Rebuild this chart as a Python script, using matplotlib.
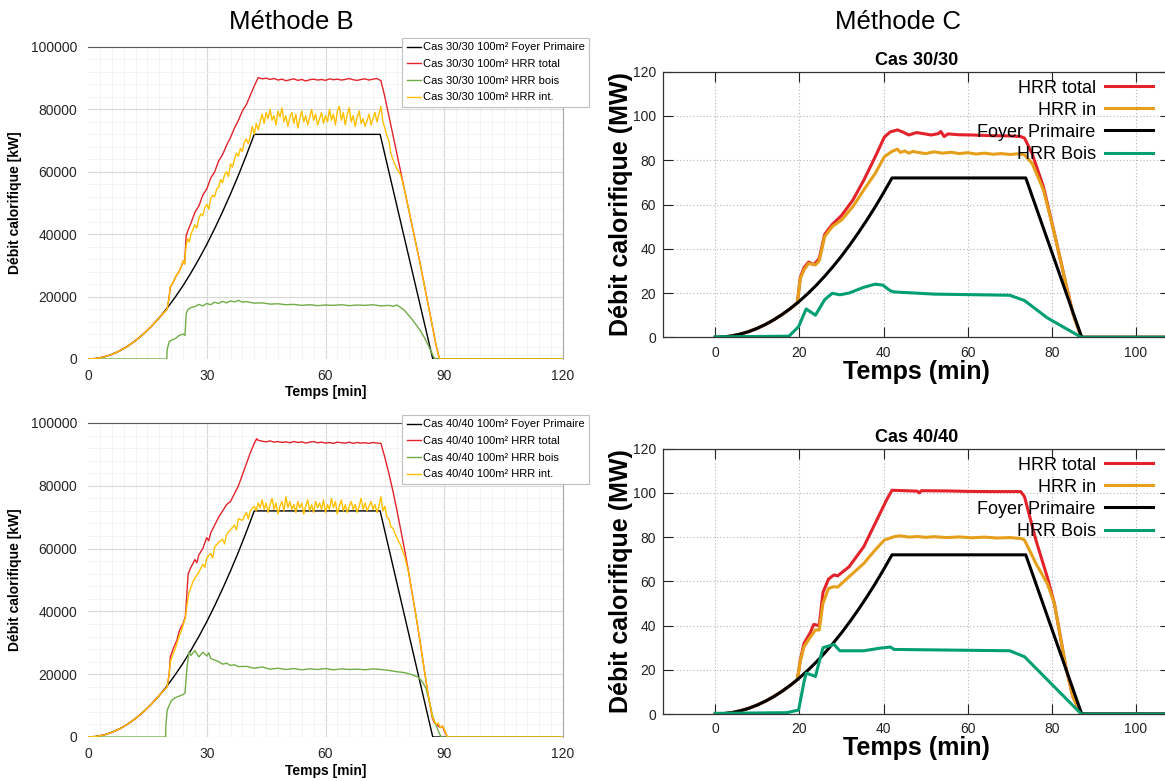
import numpy as np
import matplotlib.pyplot as plt
from matplotlib.ticker import MultipleLocator

plt.rcParams['font.family'] = ['Liberation Sans', 'DejaVu Sans']

# primary fire (Foyer Primaire), MW, same in every panel
foyer_t = [0, 2, 4, 6, 8, 10, 12, 14, 16, 18, 20, 22, 24, 26, 28, 30, 32, 34, 36, 38, 40, 42, 73.8, 87.1, 120]
foyer_v = [0, 0.16, 0.65, 1.47, 2.61, 4.08, 5.88, 8.0, 10.45, 13.22, 16.33, 19.76, 23.5, 27.6, 32.0, 36.7,
           41.8, 47.2, 52.9, 58.9, 65.3, 72.0, 72.0, 0, 0]

# ---- Méthode B, cas 30/30 (values in MW, plotted in kW)
b30_total_t = foyer_t[:10] + [20, 20.4, 20.8, 21.5, 22.2, 23, 23.6, 24.1, 24.4, 24.8,
                              25.2, 26, 27, 28, 29, 30, 31, 32, 33, 34, 35, 36, 37, 38, 39, 40, 41, 42, 43, 44, 45,
                              46, 47, 48, 49, 50, 51, 52, 53, 54, 55, 56, 57, 58, 59, 60, 61, 62, 63, 64, 65, 66,
                              67, 68, 69, 70, 71, 72, 73,
                              74, 75, 76, 77, 78, 79, 80, 81, 82, 83, 84, 85, 86, 87, 88, 88.8, 120]
b30_total_v = foyer_v[:10] + [16.0, 19.0, 23.0, 24.5, 26.5, 28.0, 29.8, 31.5, 30.5, 39.5,
                              41.0, 43.5, 47.0, 49.0, 52.5, 54.5, 58.0, 60.0, 63.5, 65.5, 68.5, 71.0, 74.0, 76.5,
                              79.5, 81.5, 84.5, 87.5, 90.2, 89.8, 90.0,
                              89.6, 89.9, 89.4, 89.7, 89.2, 89.5, 89.8, 89.3, 89.6, 89.1, 89.5, 89.7, 89.4, 89.6,
                              89.3, 89.8, 89.5, 89.7, 89.4, 89.6, 89.9, 89.5, 89.3, 89.6, 89.8, 89.4, 89.7, 89.9,
                              89.2, 84.0, 78.0, 72.0, 66.0, 60.0, 54.0, 48.0, 42.0, 36.0, 30.0, 23.5, 17.0, 10.5,
                              4.0, 0, 0]

b30_int_rise_t = [20, 20.4, 20.8, 21.5, 22.2, 23, 23.6, 24.1, 24.4, 24.8, 25.2, 25.6, 26, 26.5, 27, 27.5, 28,
                  28.5, 29, 29.5, 30, 30.5, 31, 31.5, 32, 32.5, 33, 33.5, 34, 34.5, 35, 35.5, 36, 36.5, 37,
                  37.5, 38, 38.5, 39, 39.5, 40, 40.5, 41, 41.5, 42, 42.5, 43]
b30_int_rise_v = [16.0, 19.0, 23.0, 24.5, 26.5, 28.0, 29.8, 31.5, 30.5, 36.5, 38.5, 37.5, 40.0, 41.5, 43.0,
                  42.0, 45.0, 46.5, 46.0, 48.5, 49.5, 48.0, 51.5, 52.5, 52.0, 54.5, 55.0, 57.5, 56.5, 59.0,
                  60.0, 58.5, 62.5, 61.5, 64.0, 66.0, 65.0, 67.5, 66.5, 69.5, 70.5, 69.0, 71.5, 74.5, 72.0,
                  75.5, 73.5]
plateau_t = [43.5 + 0.5 * i for i in range(61)]
b30_int_plateau = [76.0, 78.5, 75.5, 79.0, 77.0, 80.0, 76.5, 78.0, 75.0, 79.5,
                   77.5, 80.5, 76.0, 78.0, 74.5, 77.5, 79.0, 75.5, 78.5, 74.0,
                   77.0, 79.5, 76.0, 78.0, 75.0, 77.5, 80.0, 76.5, 78.5, 75.0,
                   77.0, 79.0, 75.5, 78.0, 76.0, 80.0, 76.5, 78.5, 75.0, 79.5,
                   81.0, 76.5, 79.0, 75.0, 78.5, 80.5, 76.0, 78.0, 74.5, 77.5,
                   79.5, 75.5, 77.0, 74.5, 76.5, 78.5, 75.0, 77.0, 79.0, 76.0, 78.5]
b30_int_tail_t = [74, 74.5, 75, 75.5, 76, 76.5, 77, 77.5, 78, 79, 80, 81, 82, 83, 84, 85, 86, 87, 88, 88.8, 120]
b30_int_tail_v = [81.0, 76.0, 74.0, 71.5, 70.0, 66.0, 64.0, 62.5, 61.0, 59.0, 54.0, 48.0, 42.0, 36.0, 30.0,
                  23.5, 17.0, 10.5, 4.0, 0, 0]

b30_bois_t = [0, 19.9, 20, 20.5, 21, 22, 23, 24, 24.5, 24.8, 25.2, 26, 27, 28, 29, 30, 31, 32, 33, 34, 35, 36,
              37, 38, 39, 40, 42, 44, 46, 48, 50, 52, 54, 56, 58, 60, 62, 64, 66, 68, 70, 72, 74, 76, 77, 78,
              79, 80, 81, 82, 83, 84, 85, 86, 87, 87.5, 88, 120]
b30_bois_v = [0, 0, 3.0, 5.5, 6.0, 6.5, 7.5, 8.0, 7.5, 14.5, 15.8, 16.5, 16.8, 17.5, 17.0, 17.8, 17.4, 18.2,
              17.8, 18.5, 18.0, 18.6, 18.3, 18.8, 18.2, 18.4, 17.9, 18.0, 17.6, 17.7, 17.4, 17.5, 17.2, 17.4,
              17.1, 17.3, 17.2, 17.4, 17.1, 17.3, 17.2, 17.4, 17.0, 17.2, 16.9, 17.3, 16.5, 15.5, 14.0, 12.5,
              10.8, 9.0, 6.8, 4.3, 1.5, 0.3, 0, 0]

# ---- Méthode B, cas 40/40
b40_total_t = foyer_t[:10] + [20, 20.5, 20.8, 21.5, 22, 22.5, 23, 23.5, 24, 24.6, 25, 25.3, 26, 27, 27.5, 28,
                              29, 30, 30.5, 31, 32, 33, 34, 35, 36, 37, 38, 39, 40, 41, 42, 42.6, 43,
                              44, 45, 46, 47, 48, 49, 50, 51, 52, 53, 54, 55, 56, 57, 58, 59, 60, 61, 62, 63,
                              64, 65, 66, 67, 68, 69, 70, 71, 72, 73,
                              74, 75, 76, 77, 78, 79, 80, 81, 82, 83, 84, 85, 86, 87, 87.5, 88, 89, 89.5, 90,
                              90.8, 120]
b40_total_v = foyer_v[:10] + [16.0, 20.0, 25.5, 28.0, 29.5, 31.0, 33.5, 35.0, 36.0, 38.5, 46.0, 52.0, 54.0,
                              56.5, 55.5, 58.0, 60.0, 63.5, 62.5, 65.0, 67.5, 70.0, 72.0, 74.0, 75.0, 77.5,
                              80.0, 83.5, 87.0, 90.5, 93.5, 95.0, 94.5,
                              94.2, 94.0, 94.3, 93.9, 94.1, 93.8, 94.0, 93.7, 94.1, 93.8, 94.0, 93.6, 93.9, 94.1,
                              93.7, 93.9, 93.6, 93.8, 93.5, 93.9, 93.7, 93.6, 93.9, 93.5, 93.8, 93.6, 93.7, 93.5,
                              93.8, 93.6,
                              93.5, 89.0, 84.0, 78.5, 72.5, 66.0, 59.5, 52.5, 45.0, 37.5, 29.5, 21.0, 13.0, 6.0,
                              4.5, 4.0, 3.0, 3.5, 2.0, 0, 0]

b40_int_rise_t = [20, 20.5, 20.8, 21.5, 22, 22.5, 23, 23.5, 24, 24.6, 25, 25.5, 26, 26.5, 27, 28, 29, 29.5, 30,
                  31, 31.5, 32, 33, 34, 34.5, 35, 36, 37, 37.5, 38, 39, 40, 40.5, 41, 42, 42.5, 43]
b40_int_rise_v = [16.0, 20.0, 24.0, 26.5, 28.0, 30.0, 32.0, 33.5, 35.5, 38.0, 42.0, 46.0, 47.5, 49.5, 50.5,
                  52.5, 55.0, 54.0, 57.0, 58.5, 57.0, 60.5, 62.0, 63.0, 61.5, 64.5, 66.0, 67.5, 66.0, 69.5,
                  69.0, 71.5, 69.5, 72.0, 73.5, 72.0, 74.5]
b40_int_plateau = [73.0, 75.5, 72.5, 74.5, 71.5, 74.0, 76.0, 72.5, 74.5, 71.0,
                   73.5, 75.0, 72.0, 76.5, 73.0, 75.0, 72.5, 74.0, 71.5, 75.0,
                   73.0, 74.5, 71.0, 73.5, 75.5, 72.0, 74.0, 71.5, 75.0, 73.0,
                   74.5, 72.5, 75.5, 71.5, 74.0, 72.5, 76.0, 73.0, 75.0, 71.0,
                   73.5, 75.5, 72.0, 74.0, 71.5, 73.5, 75.0, 72.5, 74.0, 71.5,
                   73.5, 76.0, 72.5, 74.5, 72.0, 73.5, 75.0, 72.5, 74.0, 71.5, 73.5]
b40_int_tail_t = [74, 74.5, 75, 75.5, 76, 76.5, 77, 78, 79, 80, 81, 82, 83, 84, 85, 86, 87, 87.5, 88, 88.5, 89,
                  89.5, 90, 90.8, 120]
b40_int_tail_v = [76.5, 72.0, 73.5, 70.0, 69.5, 67.0, 66.5, 63.5, 61.0, 57.5, 52.5, 45.0, 37.5, 29.5, 21.0,
                  13.0, 6.5, 5.0, 4.0, 4.5, 3.0, 3.5, 2.5, 0, 0]

b40_bois_t = [0, 19.6, 19.7, 20, 20.5, 21, 22, 23, 24, 24.5, 25, 25.5, 26, 27, 28, 29, 30, 30.5, 31, 32, 33, 34,
              35, 36, 37, 38, 40, 42, 44, 46, 48, 50, 52, 54, 56, 58, 60, 62, 64, 66, 68, 70, 72, 74, 76, 78,
              80, 82, 83.5, 84.5, 85.4, 86, 86.5, 87, 87.5, 88, 88.8, 89.3, 120]
b40_bois_v = [0, 0, 4.0, 8.5, 10.0, 11.5, 12.5, 13.0, 13.5, 14.0, 22.0, 27.0, 26.0, 27.5, 25.5, 27.0, 25.8,
              26.8, 25.0, 24.5, 24.0, 23.2, 23.5, 22.8, 23.0, 22.4, 22.5, 21.9, 22.3, 21.6, 21.9, 21.5, 21.8,
              21.4, 21.7, 21.5, 21.8, 21.4, 21.7, 21.5, 21.6, 21.4, 21.7, 21.5, 21.2, 20.8, 20.5, 19.8, 19.0,
              17.5, 15.5, 12.5, 10.0, 7.0, 5.0, 3.5, 1.0, 0, 0]

# ---- Méthode C, cas 30/30 (MW)
c30_total_t = foyer_t[:10] + [19.5, 20.2, 21.1, 22.2, 23.4, 24.7, 26, 27.8, 30, 32.7, 35.3, 38, 40.2, 41.6,
                              43.3, 44.5, 46, 47.8, 49.5, 51.3, 53, 53.6, 54.4, 55.3, 58, 61.1, 65.5, 70, 72.6,
                              73.5, 75.3, 78, 80.6, 83.3, 85, 86.8, 87, 110]
c30_total_v = foyer_v[:10] + [15.5, 27.0, 31.5, 34.0, 32.8, 35.5, 46.5, 51.0, 55.0, 62.0, 71.0, 81.5, 90.5,
                              92.8, 93.7, 92.8, 91.4, 92.5, 92.0, 91.4, 92.0, 93.0, 90.7, 91.9, 91.5, 91.4, 91.1,
                              91.0, 90.7, 90.0, 83.0, 68.0, 47.0, 24.4, 10.8, 1.0, 0, 0]
c30_in_t = foyer_t[:10] + [19.5, 20.2, 21.1, 22.2, 23.8, 24.7, 26, 27.8, 30, 32.7, 35.3, 38, 40.2, 42, 43.3, 44,
                           45, 46, 47, 48, 50, 52, 54, 56, 58, 60, 62, 64, 66, 68, 70, 72, 73.5, 75.3, 78, 80.6,
                           83.3, 85, 86.8, 87, 110]
c30_in_v = foyer_v[:10] + [15.5, 26.5, 30.5, 33.4, 32.7, 34.5, 45.5, 50.0, 53.0, 59.0, 66.6, 74.0, 81.6, 84.0,
                           85.0, 83.5, 84.2, 83.2, 84.0, 83.6, 83.0, 83.8, 83.2, 83.6, 83.0, 83.4, 82.8, 83.2,
                           82.7, 83.0, 82.6, 82.9, 82.4, 78.6, 66.6, 47.0, 24.4, 10.8, 1.0, 0, 0]
c30_bois_t = [0, 17.5, 19.8, 21.6, 23.8, 26, 27.8, 29.6, 31.8, 35.3, 38, 39.8, 41.6, 42.5, 52.2, 70, 73.5, 75.3,
              78.9, 87, 110]
c30_bois_v = [0.2, 0.5, 4.8, 12.8, 10.0, 17.0, 19.9, 19.2, 20.0, 22.6, 24.0, 23.6, 21.0, 20.5, 19.5, 19.0, 16.6,
              14.0, 8.8, 0, 0]

# ---- Méthode C, cas 40/40
c40_total_t = foyer_t[:10] + [19.5, 20.2, 21.1, 22.5, 23.4, 24.7, 25.6, 26.9, 28.2, 29.1, 31.8, 35.3, 38, 40.7,
                              42, 45, 48, 48.5, 49, 55, 60, 65, 72.6, 73.5, 76.2, 78.9, 80.6, 83.3, 85, 87, 110]
c40_total_v = foyer_v[:10] + [15.5, 24.4, 32.0, 36.5, 40.5, 40.0, 55.0, 61.0, 62.9, 62.5, 66.6, 75.7, 86.2,
                              96.8, 101.2, 101.0, 100.8, 100.0, 101.0, 100.9, 100.7, 100.6, 100.6, 98.3, 78.7,
                              62.0, 50.0, 21.4, 7.8, 0, 0]
c40_in_t = foyer_t[:10] + [19.5, 20.2, 21.1, 22.5, 23.8, 24.7, 25.6, 26.9, 28.2, 29.1, 31.8, 35.3, 38, 40.2,
                           42.5, 44, 46, 48, 50, 52, 55, 58, 61, 64, 67, 70, 72.6, 73.5, 76.2, 78.9, 80.6, 83.3,
                           85, 87, 110]
c40_in_v = foyer_v[:10] + [15.5, 24.0, 30.5, 34.5, 38.0, 38.0, 50.0, 56.8, 57.6, 57.4, 62.1, 68.1, 74.2, 78.7,
                           80.2, 80.6, 80.0, 80.3, 79.9, 80.2, 79.8, 80.1, 79.7, 80.0, 79.6, 79.8, 79.4, 78.7,
                           68.1, 59.1, 50.0, 21.4, 7.8, 0, 0]
c40_bois_t = [0, 17, 19.8, 21.1, 21.6, 23.8, 25.6, 27.4, 28.2, 29.6, 35.3, 38.9, 41.6, 42.5, 70, 73.5, 87, 110]
c40_bois_v = [0.3, 0.6, 1.8, 14.6, 18.5, 17.0, 30.0, 31.0, 31.5, 28.6, 28.6, 29.7, 30.3, 29.2, 28.6, 25.9, 0, 0]

W, H = 1165, 781
fig = plt.figure(figsize=(W / 100, H / 100), dpi=100)


def box(l, t, r, b):
    return [l / W, 1 - b / H, (r - l) / W, (b - t) / H]


def style_b(ax):
    ax.set_xlim(0, 120)
    ax.set_ylim(0, 100000)
    ax.set_xticks([0, 30, 60, 90, 120])
    ax.set_yticks(range(0, 100001, 20000))
    ax.xaxis.set_minor_locator(MultipleLocator(3))
    ax.yaxis.set_minor_locator(MultipleLocator(4000))
    ax.grid(which='major', color='#d9d9d9', lw=0.8)
    ax.grid(which='minor', color='#f1f1f1', lw=0.6)
    ax.xaxis.get_gridlines()[0].set_visible(False)
    ax.set_axisbelow(True)
    ax.tick_params(which='both', length=0, labelsize=10, colors='#262626')
    ax.tick_params(axis='y', pad=8)
    ax.tick_params(axis='x', pad=7)
    ax.spines['left'].set_visible(False)
    ax.spines['bottom'].set_visible(False)
    ax.spines['top'].set_color('#595959')
    ax.spines['right'].set_color('#a6a6a6')
    ax.set_xlabel('Temps [min]', fontsize=10, fontweight='bold', labelpad=2)
    ax.set_ylabel('Débit calorifique [kW]', fontsize=10, fontweight='bold', labelpad=6)


def plot_b(ax, cas, tot_t, tot_v, int_t, int_v, bois_t, bois_v, leg_top):
    kw = 1000
    ax.plot(foyer_t, np.array(foyer_v) * kw, color='black', lw=1.0, label=f'Cas {cas} 100m² Foyer Primaire')
    ax.plot(tot_t, np.array(tot_v) * kw, color='#e3232c', lw=1.0, label=f'Cas {cas} 100m² HRR total')
    ax.plot(bois_t, np.array(bois_v) * kw, color='#70ad47', lw=1.0, label=f'Cas {cas} 100m² HRR bois')
    ax.plot(int_t, np.array(int_v) * kw, color='#ffc000', lw=1.0, label=f'Cas {cas} 100m² HRR int.')
    style_b(ax)
    leg = ax.legend(loc='upper right', bbox_to_anchor=(589 / W, 1 - leg_top / H), bbox_transform=fig.transFigure,
                    fontsize=8, handlelength=1.3, handletextpad=0.15, labelspacing=0.6, borderpad=0.4,
                    borderaxespad=0, fancybox=False, edgecolor='#bfbfbf', framealpha=1)
    leg.get_frame().set_linewidth(0.8)


def plot_c(ax, title, tot_t, tot_v, in_t, in_v, bois_t, bois_v):
    ax.plot(tot_t, tot_v, color='#e3222b', lw=2.2, label='HRR total')
    ax.plot(in_t, in_v, color='#e69f1a', lw=2.2, label='HRR in')
    ax.plot(foyer_t, foyer_v, color='black', lw=2.2, label='Foyer Primaire')
    ax.plot(bois_t, bois_v, color='#009e73', lw=2.2, label='HRR Bois')
    ax.set_xlim(-12.5, 108.2)
    ax.set_ylim(0, 120)
    ax.set_xticks(range(0, 101, 20))
    ax.set_yticks(range(0, 121, 20))
    ax.grid(color='#b4b4b4', ls=(0, (1, 2)), lw=0.8)
    ax.tick_params(direction='in', top=True, right=True, length=7, width=0.8, labelsize=10, colors='#222222')
    ax.tick_params(axis='x', pad=6)
    ax.tick_params(axis='y', pad=5)
    for s in ax.spines.values():
        s.set_color('#333333')
        s.set_linewidth(0.9)
    ax.set_title(title, fontsize=13, fontweight='bold', pad=5)
    ax.set_xlabel('Temps (min)', fontsize=18, fontweight='bold', labelpad=0)
    ax.set_ylabel('Débit calorifique (MW)', fontsize=18, fontweight='bold', labelpad=0)
    ax.legend(loc='upper right', bbox_to_anchor=(0.9655, 0.970), frameon=False, markerfirst=False, fontsize=13,
              handlelength=2.67, handletextpad=0.5, labelspacing=0.28, borderpad=0, borderaxespad=0)


ax1 = fig.add_axes(box(88, 47, 563, 359))
plot_b(ax1, '30/30', b30_total_t, b30_total_v,
       foyer_t[:10] + b30_int_rise_t + plateau_t + b30_int_tail_t,
       foyer_v[:10] + b30_int_rise_v + b30_int_plateau + b30_int_tail_v,
       b30_bois_t, b30_bois_v, 38)

ax2 = fig.add_axes(box(88, 423, 563, 737))
plot_b(ax2, '40/40', b40_total_t, b40_total_v,
       foyer_t[:10] + b40_int_rise_t + plateau_t + b40_int_tail_t,
       foyer_v[:10] + b40_int_rise_v + b40_int_plateau + b40_int_tail_v,
       b40_bois_t, b40_bois_v, 415)

ax3 = fig.add_axes(box(662.7, 71.7, 1170.5, 337.3))
plot_c(ax3, 'Cas 30/30', c30_total_t, c30_total_v, c30_in_t, c30_in_v, c30_bois_t, c30_bois_v)

ax4 = fig.add_axes(box(662.7, 448.7, 1170.5, 714))
plot_c(ax4, 'Cas 40/40', c40_total_t, c40_total_v, c40_in_t, c40_in_v, c40_bois_t, c40_bois_v)

fig.text(291.5 / W, 1 - 22 / H, 'Méthode B', ha='center', va='center', fontsize=18.5)
fig.text(898 / W, 1 - 22 / H, 'Méthode C', ha='center', va='center', fontsize=18.5)

fig.savefig('out.png', dpi=100)
